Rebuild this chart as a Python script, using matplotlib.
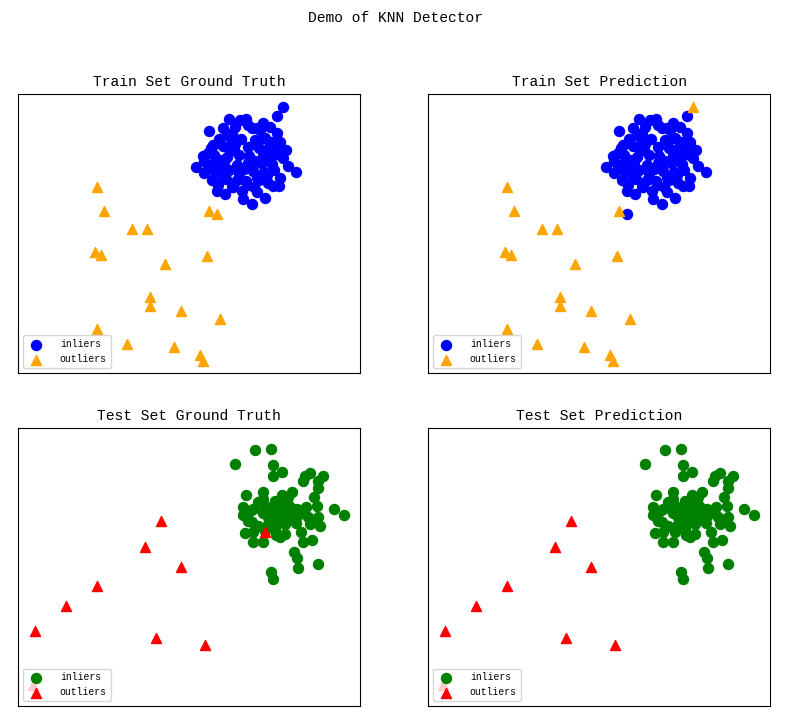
import numpy as np
import matplotlib
matplotlib.use("Agg")
import matplotlib.pyplot as plt

plt.rcParams['font.family'] = ['Liberation Mono', 'DejaVu Sans Mono']

# train set, inliers (x, y)
train_in_x = [264.7, 258.7, 211.3, 222.0, 227.7, 252.0, 191.3, 258.7, 262.0, 184.7,
              178.0, 277.7, 265.3, 262.0, 254.7, 261.3, 198.7, 207.0, 225.3, 233.7,
              247.3, 239.3, 213.7, 199.3, 189.7, 195.3, 208.7, 213.7, 233.7, 242.0,
              238.7, 245.3, 253.7, 258.7, 262.0, 248.7, 238.7, 202.0, 205.3, 218.7,
              228.7, 193.7,
              201.0, 213.5, 223.0, 236.5, 247.0,
              192.5, 205.0, 216.0, 229.5, 240.5, 251.0,
              196.0, 209.0, 220.5, 231.0, 245.0, 256.5,
              194.5, 206.0, 218.5, 230.0, 243.0, 253.5,
              197.0, 210.5, 221.0, 234.5, 245.5,
              208.0, 227.5, 240.5,
              217.0, 237.0, 226.0, 249.0, 212.0, 201.5,
              186.0, 190.0, 200.0, 215.0, 224.0, 236.0, 250.0, 256.0, 250.0, 262.0,
              217.0, 230.0, 205.0, 245.0, 268.0, 270.0, 186.0]
train_in_y = [266.3, 257.0, 254.0, 253.0, 254.0, 246.0, 242.0, 240.3, 231.3, 217.3,
              206.3, 200.7, 214.7, 195.3, 186.7, 186.7, 182.0, 178.7, 174.0, 168.7,
              175.3, 181.3, 186.3, 189.7, 206.3, 228.0, 238.0, 239.7, 244.7, 243.0,
              244.7, 234.7, 231.3, 223.0, 218.0, 198.0, 194.7, 208.0, 198.0, 193.0,
              188.0, 193.0,
              233.5, 232.0, 234.0, 232.5, 234.5,
              225.0, 226.5, 224.0, 225.5, 224.5, 226.0,
              217.5, 216.0, 218.0, 216.5, 217.0, 218.5,
              209.0, 210.5, 208.0, 209.5, 210.0, 208.5,
              201.0, 202.5, 200.0, 201.5, 200.5,
              193.5, 192.0, 193.0,
              229.0, 212.0, 204.0, 221.0, 221.5, 213.0,
              212.0, 220.0, 188.0, 186.0, 182.0, 186.0, 190.0, 203.0, 212.0, 226.0,
              246.0, 248.0, 245.0, 250.0, 223.0, 207.0, 200.0]

# train set, outliers
train_out_x = [79.3, 86.3, 114.3, 129.3, 191.0, 199.0, 77.0, 83.0, 147.0, 188.7,
               131.7, 131.7, 162.7, 202.3, 79.3, 108.7, 156.0, 182.3, 185.3]
train_out_y = [185.7, 162.0, 143.7, 143.7, 162.0, 158.7, 120.7, 118.0, 108.7, 117.0,
               75.7, 67.0, 61.7, 53.7, 44.0, 29.3, 25.7, 17.7, 12.3]

# test set, inliers
test_in_x = [217.0, 237.0, 253.0, 254.7, 263.7, 255.3, 287.0, 292.0, 285.3, 304.7,
             300.3, 300.3, 228.0, 245.3, 263.7, 273.7, 296.3, 298.7, 316.0, 326.3,
             224.7, 224.7, 235.3, 243.7, 257.0, 268.7, 278.7, 288.0, 290.3, 300.3,
             302.0, 292.0, 278.0, 268.7, 260.3, 255.3, 245.3, 233.7, 227.0, 235.3,
             257.0, 267.0, 258.0, 235.3, 245.3, 284.7, 293.7, 276.0, 278.7, 299.7,
             279.7, 252.7, 255.3, 267.0, 278.7, 265.3, 272.0, 262.0, 250.3, 240.3,
             232.0, 248.7, 253.7, 267.0, 270.3, 262.0, 273.7,
             240.0, 250.0, 230.0, 262.0, 247.0, 283.0, 285.0, 275.0, 245.0]
test_in_y = [243.3, 256.7, 257.7, 242.0, 235.0, 231.0, 231.0, 233.7, 226.0, 231.0,
             226.0, 218.3, 211.7, 214.3, 211.7, 215.0, 209.3, 201.0, 197.7, 191.7,
             199.3, 191.7, 197.7, 202.7, 206.0, 204.3, 197.7, 199.3, 189.3, 189.3,
             181.0, 182.7, 183.7, 191.0, 194.3, 187.7, 193.7, 184.3, 173.7, 174.3,
             177.7, 172.7, 171.7, 164.3, 165.0, 164.3, 166.7, 155.0, 148.3, 142.3,
             138.3, 134.3, 127.0, 182.7, 191.0, 199.3, 199.3, 186.0, 182.7, 181.0,
             196.0, 199.3, 196.0, 207.7, 209.3, 201.0, 196.0,
             205.0, 190.0, 186.0, 170.0, 176.0, 175.0, 196.0, 188.0, 208.0]

# test set, outliers
test_out_x = [142.7, 126.7, 162.7, 79.3, 48.3, 16.7, 138.3, 186.7, 15.0, 247.0]
test_out_y = [185.3, 159.3, 139.3, 120.0, 100.7, 75.0, 68.7, 61.7, 21.0, 174.3]

# points where the detector disagrees with ground truth
train_flip = [0, len(train_in_x) + 5]
test_flip = [len(test_in_x) + 9]

X_train = np.column_stack([train_in_x + train_out_x, train_in_y + train_out_y])
y_train = np.array([0] * len(train_in_x) + [1] * len(train_out_x))
X_test = np.column_stack([test_in_x + test_out_x, test_in_y + test_out_y])
y_test = np.array([0] * len(test_in_x) + [1] * len(test_out_x))

y_train_pred = y_train.copy()
y_train_pred[train_flip] = 1 - y_train_pred[train_flip]
y_test_pred = y_test.copy()
y_test_pred[test_flip] = 1 - y_test_pred[test_flip]


def draw(ax, X, y, c_in, c_out, title):
    inl = X[y == 0]
    out = X[y == 1]
    ax.scatter(inl[:, 0], inl[:, 1], c=c_in, marker='o', s=52, label='inliers')
    ax.scatter(out[:, 0], out[:, 1], c=c_out, marker='^', s=52, label='outliers')
    ax.set_xlim(0, 342)
    ax.set_ylim(0, 279)
    ax.set_xticks([])
    ax.set_yticks([])
    ax.set_title(title, fontsize=10.5)
    ax.legend(loc=3, prop={'size': 7}, handletextpad=1.4)


fig = plt.figure(figsize=(7.9, 7.21), dpi=100)
w, h = 0.4329, 0.387
ax1 = fig.add_axes([0.0228, 0.4827, w, h])
ax2 = fig.add_axes([0.5418, 0.4827, w, h])
ax3 = fig.add_axes([0.0228, 0.0208, w, 0.3856])
ax4 = fig.add_axes([0.5418, 0.0208, w, 0.3856])

draw(ax1, X_train, y_train, 'blue', 'orange', 'Train Set Ground Truth')
draw(ax2, X_train, y_train_pred, 'blue', 'orange', 'Train Set Prediction')
draw(ax3, X_test, y_test, 'green', 'red', 'Test Set Ground Truth')
draw(ax4, X_test, y_test_pred, 'green', 'red', 'Test Set Prediction')

fig.suptitle('Demo of KNN Detector', fontsize=10.5, y=0.985)
fig.savefig('out.png', dpi=100)
